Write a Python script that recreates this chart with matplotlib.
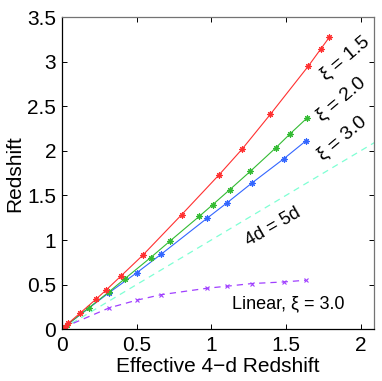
import matplotlib
matplotlib.use('agg')
import matplotlib.pyplot as plt

# xi = 1.5
red_x = [0.02, 0.042, 0.121, 0.228, 0.295, 0.394, 0.542, 0.803, 1.054, 1.206, 1.396, 1.649, 1.732, 1.792]
red_y = [0.03, 0.064, 0.179, 0.336, 0.437, 0.594, 0.830, 1.286, 1.734, 2.018, 2.410, 2.948, 3.139, 3.277]
# xi = 2.0
green_x = [0.01, 0.031, 0.18, 0.315, 0.423, 0.595, 0.725, 0.921, 1.011, 1.125, 1.262, 1.434, 1.530, 1.642]
green_y = [0.014, 0.045, 0.239, 0.418, 0.568, 0.804, 0.990, 1.267, 1.398, 1.566, 1.771, 2.037, 2.194, 2.369]
# xi = 3.0
blue_x = [0.01, 0.02, 0.317, 0.5, 0.665, 0.975, 1.105, 1.273, 1.488, 1.633]
blue_y = [0.013, 0.03, 0.411, 0.631, 0.841, 1.248, 1.416, 1.640, 1.914, 2.111]
# linear, xi = 3.0
lin_x = [0.01, 0.02, 0.317, 0.5, 0.665, 0.975, 1.105, 1.273, 1.488, 1.633]
lin_y = [0.012, 0.026, 0.239, 0.325, 0.387, 0.460, 0.482, 0.512, 0.530, 0.549]
# 4d = 5d
eq_x = [0, 2.1]
eq_y = [0, 2.1]

plt.rcParams['font.family'] = ['Liberation Sans', 'DejaVu Sans']

fig = plt.figure(figsize=(3.82, 3.81), dpi=100)
ax = fig.add_axes([0.162, 0.136, 0.817, 0.819])

ast = (8, 2, 0)
ax.plot(eq_x, eq_y, '--', color='#7fffd4', lw=0.9, dashes=(5, 4))
ax.plot(lin_x, lin_y, '--', color='#a040ff', lw=0.9, dashes=(5, 4),
        marker='x', ms=3.5, mew=0.8)
ax.plot(blue_x, blue_y, '-', color='#3366ff', lw=0.8, marker=ast, ms=4.5, mew=0.8)
ax.plot(green_x, green_y, '-', color='#33bb33', lw=0.8, marker=ast, ms=4.5, mew=0.8)
ax.plot(red_x, red_y, '-', color='#ff3030', lw=0.8, marker=ast, ms=4.5, mew=0.8)

ax.set_xlim(0, 2.09)
ax.set_ylim(0, 3.5)
ax.set_xticks([0, 0.5, 1, 1.5, 2])
ax.set_xticklabels(['0', '0.5', '1', '1.5', '2'])
ax.set_yticks([0, 0.5, 1, 1.5, 2, 2.5, 3, 3.5])
ax.set_yticklabels(['0', '0.5', '1', '1.5', '2', '2.5', '3', '3.5'])
ax.tick_params(direction='in', top=True, right=True, length=3.5, width=0.7,
               labelsize=15, pad=4)
ax.tick_params(axis='x', pad=5)
for s in ['top', 'right']:
    ax.spines[s].set_color('0.45')
for s in ax.spines.values():
    s.set_linewidth(0.9)

ax.set_xlabel('Effective 4\u2212d Redshift', fontsize=15, labelpad=1)
ax.set_ylabel('Redshift', fontsize=15, labelpad=2)

ax.text(1.899, 3.04, '\u03be = 1.5', fontsize=14, rotation=40, ha='center', va='center')
ax.text(1.872, 2.58, '\u03be = 2.0', fontsize=14, rotation=40, ha='center', va='center')
ax.text(1.877, 2.147, '\u03be = 3.0', fontsize=14, rotation=40, ha='center', va='center')
ax.text(1.416, 1.145, '4d = 5d', fontsize=13, rotation=30, ha='center', va='center')
ax.text(1.517, 0.29, 'Linear, \u03be = 3.0', fontsize=13, ha='center', va='center')

plt.savefig('out.png', dpi=100)
